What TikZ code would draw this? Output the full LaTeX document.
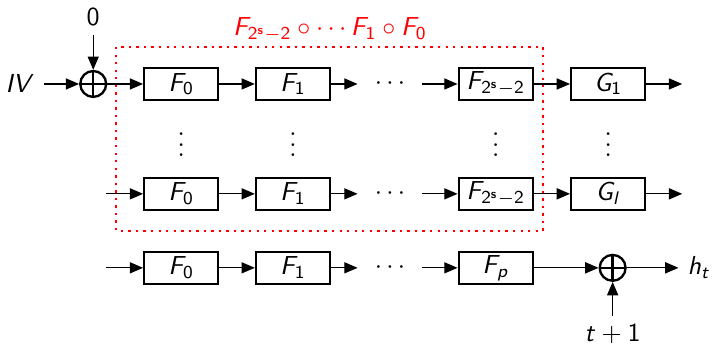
\documentclass[tikz,border=0pt]{standalone}
\usetikzlibrary{arrows.meta}
% sans serif math, as on slides
\SetSymbolFont{operators}{normal}{OT1}{cmss}{m}{n}
\SetSymbolFont{letters}{normal}{OT1}{cmss}{m}{it}
\SetMathAlphabet{\mathbf}{normal}{OT1}{cmss}{bx}{n}
\begin{document}
\begin{tikzpicture}[
    hashBk/.style={rectangle,draw=black,line width=0.9pt,minimum width=1cm,minimum height=0.43cm,inner sep=0pt},
    hashXor/.style={circle,draw=black,line width=0.9pt,minimum size=0.35cm,inner sep=0pt,
      path picture={\draw[line width=0.9pt] (path picture bounding box.north) -- (path picture bounding box.south)
        (path picture bounding box.west) -- (path picture bounding box.east);}},
    hashDots/.style={minimum width=0.86cm,inner sep=0pt},
    hashArr/.style={-{Triangle[length=1.8mm,width=1.5mm]},line width=0.5pt},
]
\useasboundingbox (0,0) rectangle (9.65,-4.66);
% first row
\node (IV) at (0.27,-1.135) {$IV$};
\node (zero) at (1.26,-0.23) {$0$};
\node[hashXor] (X1) at (1.26,-1.135) {};
\node[hashBk] (F0a) at (2.45,-1.135) {$F_0$};
\node[hashBk] (F1a) at (3.96,-1.135) {$F_1$};
\node[hashDots] (Da) at (5.27,-1.135) {$\cdots$};
\node[hashBk] (Fsa) at (6.70,-1.135) {$F_{2^{\mathbf{s}}-2}$};
\node[hashBk] (G1) at (8.22,-1.135) {$G_1$};
\coordinate (Oa) at (9.22,-1.135);
% vertical dots
\node at (2.45,-1.85) {$\vdots$};
\node at (3.96,-1.85) {$\vdots$};
\node at (6.70,-1.85) {$\vdots$};
\node at (8.22,-1.85) {$\vdots$};
% second row
\coordinate (Ib) at (1.43,-2.62);
\node[hashBk] (F0b) at (2.45,-2.62) {$F_0$};
\node[hashBk] (F1b) at (3.96,-2.62) {$F_1$};
\node[hashDots] (Db) at (5.27,-2.62) {$\cdots$};
\node[hashBk] (Fsb) at (6.70,-2.62) {$F_{2^{\mathbf{s}}-2}$};
\node[hashBk] (Gl) at (8.22,-2.62) {$G_l$};
\coordinate (Ob) at (9.22,-2.62);
% third row
\coordinate (Ic) at (1.43,-3.62);
\node[hashBk] (F0c) at (2.45,-3.62) {$F_0$};
\node[hashBk] (F1c) at (3.96,-3.62) {$F_1$};
\node[hashDots] (Dc) at (5.27,-3.62) {$\cdots$};
\node[hashBk] (Fp) at (6.70,-3.62) {$F_p$};
\node[hashXor] (X2) at (8.28,-3.62) {};
\node (ht) at (9.45,-3.62) {$h_t$};
\node (tp) at (8.28,-4.52) {$t+1$};
% red box
\draw[red,dotted,line width=0.9pt] (1.57,-0.635) rectangle (7.34,-3.12);
\node[red] (lbl) at (4.46,-0.40) {$F_{2^{\mathbf{s}}-2}\circ\cdots F_1\circ F_0$};
\draw[hashArr] (IV) -- (X1);
\draw[hashArr] (zero) -- (X1);
\draw[hashArr] (X1) -- (F0a);
\draw[hashArr] (F0a) -- (F1a);
\draw[hashArr] (F1a) -- (Da);
\draw[hashArr] (Da) -- (Fsa);
\draw[hashArr] (Fsa) -- (G1);
\draw[hashArr] (G1) -- (Oa);
\draw[hashArr] (Ib) -- (F0b);
\draw[hashArr] (F0b) -- (F1b);
\draw[hashArr] (F1b) -- (Db);
\draw[hashArr] (Db) -- (Fsb);
\draw[hashArr] (Fsb) -- (Gl);
\draw[hashArr] (Gl) -- (Ob);
\draw[hashArr] (Ic) -- (F0c);
\draw[hashArr] (F0c) -- (F1c);
\draw[hashArr] (F1c) -- (Dc);
\draw[hashArr] (Dc) -- (Fp);
\draw[hashArr] (Fp) -- (X2);
\draw[hashArr] (X2) -- (ht);
\draw[hashArr] (tp) -- (X2);
\end{tikzpicture}
\end{document}
